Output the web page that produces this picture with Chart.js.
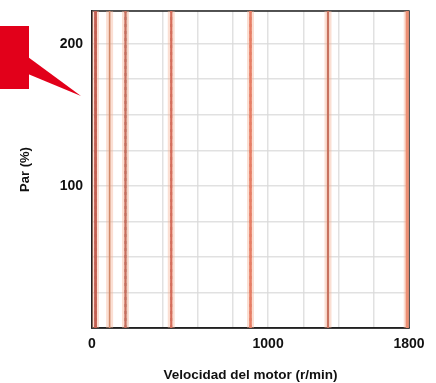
<!DOCTYPE html>
<html>
<head>
<meta charset="utf-8">
<script src="https://cdn.jsdelivr.net/npm/chart.js@4"></script>
<style>
  html, body { margin: 0; padding: 0; background: #ffffff; }
  #wrap { position: relative; width: 436px; height: 383px; }
  canvas { display: block; }
</style>
</head>
<body>
<div id="wrap"><canvas id="c" width="436" height="383"></canvas></div>
<script>
// ---- data ----
const motorSpeeds = [20, 100, 190, 450, 900, 1340, 1790];   // r/min of the vertical lines
const torqueSpan = [0, 223];                                  // % range covered by each line
const xTickLabels = [0, 1000, 1800];
const yTickLabels = [100, 200];
const xAxisTitle = 'Velocidad del motor (r/min)';
const yAxisTitle = 'Par (%)';

// ---- styles (kept apart from the data) ----
const coreColors = ['#a02a28', '#b8704f', '#a8443c', '#c0443a', '#de5e48', '#a84a3e', '#e67a62'];
const coreWidths = [2.8, 1.6, 2.2, 2.2, 2.6, 2.2, 3.2];
const dashColors = ['#6e1616', null, '#6e2020', '#7a1f1f', '#8a2e26', '#6e2622', null];
const haloColor = 'rgba(246,175,145,0.4)';
const FONT = "'Liberation Sans Narrow', 'Liberation Sans', Arial, sans-serif";

const datasets = [];
motorSpeeds.forEach((s, i) => {
  const pts = torqueSpan.map(t => ({ x: s, y: t }));
  datasets.push({ data: pts, borderColor: haloColor, borderWidth: 7, pointRadius: 0, tension: 0 });
  datasets.push({ data: pts, borderColor: coreColors[i], borderWidth: coreWidths[i], pointRadius: 0, tension: 0 });
  if (dashColors[i]) {
    datasets.push({ data: pts, borderColor: dashColors[i], borderWidth: 1.8, borderDash: [3, 4], pointRadius: 0, tension: 0 });
  }
});

const frame = {
  id: 'frame',
  beforeDatasetsDraw(chart) {
    const { ctx, chartArea: a } = chart;
    ctx.save();
    ctx.strokeStyle = '#222';
    ctx.lineWidth = 1.5;
    ctx.strokeRect(a.left, a.top, a.right - a.left, a.bottom - a.top);
    ctx.restore();
  }
};

const callout = {
  id: 'callout',
  afterDraw(chart) {
    const ctx = chart.ctx;
    ctx.save();
    ctx.fillStyle = '#e2001a';
    ctx.fillRect(0, 26, 29, 63);
    ctx.beginPath();
    ctx.moveTo(28, 57);
    ctx.lineTo(81, 96);
    ctx.lineTo(28, 74);
    ctx.closePath();
    ctx.fill();
    ctx.restore();
  }
};

new Chart(document.getElementById('c'), {
  type: 'line',
  data: { datasets },
  options: {
    responsive: false,
    animation: false,
    layout: { padding: { top: 11, right: 27, left: 0, bottom: 0 } },
    plugins: { legend: { display: false }, tooltip: { enabled: false } },
    scales: {
      x: {
        type: 'linear',
        min: 0, max: 1800,
        afterFit(s) { s.height = 55; s.paddingLeft = 0; s.paddingRight = 0; },
        ticks: {
          stepSize: 200,
          padding: 8,
          autoSkip: false,
          maxRotation: 0,
          minRotation: 0,
          color: '#111',
          font: { family: FONT, size: 14, weight: 'bold' },
          callback: v => xTickLabels.includes(v) ? String(v) : ''
        },
        grid: { color: 'rgba(218,218,218,0.8)', lineWidth: 1.5, drawTicks: false },
        border: { display: true, color: '#222', width: 1.5 },
        title: {
          display: true, text: xAxisTitle, color: '#111',
          font: { family: FONT, size: 13.5, weight: 'bold' },
          padding: { top: 0, bottom: 0 }
        }
      },
      y: {
        type: 'linear',
        min: torqueSpan[0], max: torqueSpan[1],
        afterFit(s) { s.width = 92; s.paddingTop = 0; s.paddingBottom = 0; },
        ticks: {
          stepSize: 25,
          padding: 9,
          color: '#111',
          font: { family: FONT, size: 14, weight: 'bold' },
          callback: v => yTickLabels.includes(v) ? String(v) : ''
        },
        grid: { color: 'rgba(218,218,218,0.8)', lineWidth: 1.5, drawTicks: false },
        border: { display: true, color: '#222', width: 1.5 },
        title: {
          display: true, text: yAxisTitle, color: '#111',
          font: { family: FONT, size: 13, weight: 'bold' },
          padding: { top: 18, bottom: 0 }
        }
      }
    }
  },
  plugins: [frame, callout]
});
</script>
</body>
</html>
